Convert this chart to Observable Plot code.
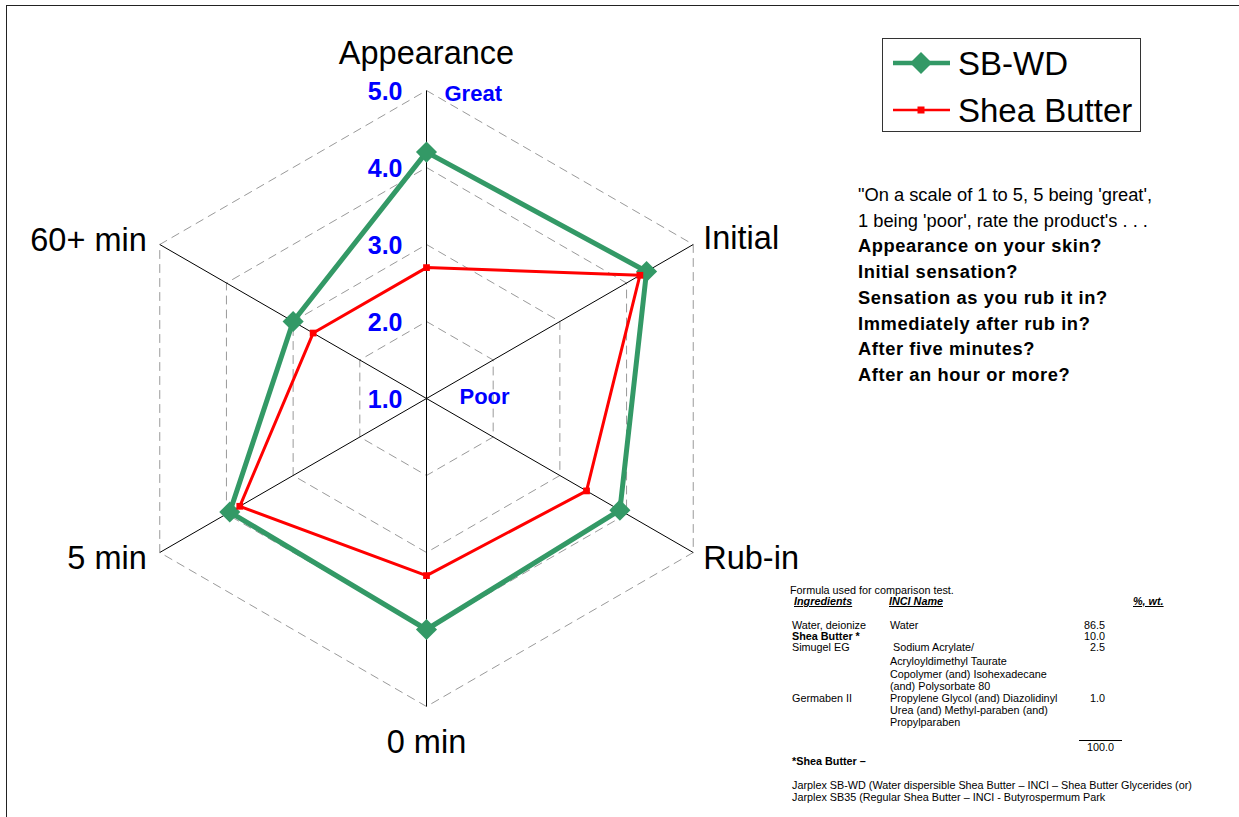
<!DOCTYPE html>
<html>
<head>
<meta charset="utf-8">
<script src="https://cdn.jsdelivr.net/npm/d3@7"></script>
<script src="https://cdn.jsdelivr.net/npm/@observablehq/plot@0.6"></script>
<style>
  html, body { margin:0; padding:0; background:#fff; overflow:hidden; }
  body { width:1239px; height:817px; position:relative; font-family:"Liberation Sans", Arial, sans-serif; }
  #frame { position:absolute; left:6px; top:5px; width:1400px; height:1000px; border:1.5px solid #222; box-sizing:border-box; }
  #chart { position:absolute; left:0; top:0; }
  #legend { position:absolute; left:882px; top:38px; }
  #questions { position:absolute; left:858px; top:182px; font-size:18.3px; line-height:25.7px; color:#000; white-space:nowrap; }
  #questions .b { font-weight:bold; letter-spacing:0.6px; }
  #formula { position:absolute; left:0; top:0; width:1239px; height:817px; font-size:10.8px; color:#000; }
  #formula span { position:absolute; white-space:nowrap; line-height:12px; transform:translateY(-6px); }
  #formula .num { text-align:right; width:40px; }
  #formula .hdr { font-weight:bold; font-style:italic; text-decoration:underline; }
</style>
</head>
<body>
<div id="frame"></div>
<div id="chart"></div>
<svg id="legend" width="260" height="95"></svg>
<div id="questions"></div>
<div id="formula"></div>
<script>
// ---- data ----
const axes = ["Appearance", "Initial", "Rub-in", "0 min", "5 min", "60+ min"];
const sbwd = [4.2, 4.3, 3.9, 4.0, 3.95, 3.0];
const shea = [2.7, 4.2, 3.4, 3.3, 3.8, 2.7];
const seriesNames = ["SB-WD", "Shea Butter"];
const tickValues = [1, 2, 3, 4, 5];
const ringValues = [2, 3, 4, 5];
const scaleMin = 1, scaleMax = 5;
const questionLines = [
  "\"On a scale of 1 to 5, 5 being 'great',",
  "1 being 'poor', rate the product's . . .",
  "Appearance on your skin?",
  "Initial sensation?",
  "Sensation as you rub it in?",
  "Immediately after rub in?",
  "After five minutes?",
  "After an hour or more?"
];

// ---- geometry helpers ----
const ang = i => i * 2 * Math.PI / axes.length;
const pt = (v, i) => ({x: (v - scaleMin) * Math.sin(ang(i)), y: (v - scaleMin) * Math.cos(ang(i))});

const ringData = ringValues.flatMap(r => axes.map((a, i) => ({ring: r, ...pt(r, i)})));
const spokeData = axes.map((a, i) => ({axis: a, ...pt(scaleMax, i)}));
const sbwdPts = sbwd.map((v, i) => ({series: seriesNames[0], axis: axes[i], ...pt(v, i)}));
const sheaPts = shea.map((v, i) => ({series: seriesNames[1], axis: axes[i], ...pt(v, i)}));

const GREEN = "#339966", RED = "#ff0000", BLUE = "#0000ff";

const labelCfg = [
  {textAnchor: "middle", dx: 0, dy: -37},
  {textAnchor: "start", dx: 10, dy: -6},
  {textAnchor: "start", dx: 10, dy: 6},
  {textAnchor: "middle", dx: 0, dy: 36},
  {textAnchor: "end", dx: -13, dy: 6},
  {textAnchor: "end", dx: -13, dy: -4}
];

const W = 1239, H = 817, CX = 426, CY = 398, UNIT = 77;

const plot = Plot.plot({
  width: W, height: H, margin: 0,
  x: {domain: [-CX / UNIT, (W - CX) / UNIT], axis: null},
  y: {domain: [(CY - H) / UNIT, CY / UNIT], axis: null},
  style: {background: "transparent", fontFamily: "Liberation Sans, Arial, sans-serif", overflow: "visible"},
  marks: [
    Plot.line(ringData, {x: "x", y: "y", z: "ring", curve: "linear-closed", stroke: "#9a9a9a", strokeWidth: 1, strokeDasharray: "8,6"}),
    Plot.link(spokeData, {x1: () => 0, y1: () => 0, x2: "x", y2: "y", stroke: "#000", strokeWidth: 1}),
    Plot.line(sbwdPts, {x: "x", y: "y", curve: "linear-closed", stroke: GREEN, strokeWidth: 5, strokeLinejoin: "miter"}),
    Plot.dot(sbwdPts, {x: "x", y: "y", symbol: "diamond2", r: 9.5, fill: GREEN, stroke: "none"}),
    Plot.line(sheaPts, {x: "x", y: "y", curve: "linear-closed", stroke: RED, strokeWidth: 3}),
    Plot.dot(sheaPts, {x: "x", y: "y", symbol: "square", r: 3.8, fill: RED, stroke: "none"}),
    ...spokeData.map((d, i) => Plot.text([d], {x: "x", y: "y", text: "axis", fontSize: 32.5, fill: "#000",
      textAnchor: labelCfg[i].textAnchor, dx: labelCfg[i].dx, dy: labelCfg[i].dy})),
    Plot.text(tickValues, {x: () => 0, y: v => v - scaleMin, text: v => v.toFixed(1), textAnchor: "end",
      dx: -24, dy: 1, fill: BLUE, fontWeight: "bold", fontSize: 25}),
    Plot.text([scaleMax], {x: () => 0, y: v => v - scaleMin, text: () => "Great", textAnchor: "start",
      dx: 18, dy: 3, fill: BLUE, fontWeight: "bold", fontSize: 22}),
    Plot.text([scaleMin], {x: () => 0, y: v => v - scaleMin, text: () => "Poor", textAnchor: "start",
      dx: 33, dy: -2, fill: BLUE, fontWeight: "bold", fontSize: 22})
  ]
});
document.getElementById("chart").appendChild(plot);

// ---- legend ----
const lg = d3.select("#legend");
lg.append("rect").attr("x", 0.5).attr("y", 0.5).attr("width", 258).attr("height", 93).attr("fill", "#fff").attr("stroke", "#333").attr("stroke-width", 1);
lg.append("line").attr("x1", 11).attr("x2", 68).attr("y1", 25).attr("y2", 25).attr("stroke", GREEN).attr("stroke-width", 4.5);
lg.append("path").attr("d", "M39,14 L50,25 L39,36 L28,25 Z").attr("fill", GREEN);
lg.append("text").attr("x", 76).attr("y", 25).attr("dy", "0.35em").attr("font-size", 33).attr("font-family", "Liberation Sans, Arial").text(seriesNames[0]);
lg.append("line").attr("x1", 11).attr("x2", 68).attr("y1", 72).attr("y2", 72).attr("stroke", RED).attr("stroke-width", 2.5);
lg.append("rect").attr("x", 35.5).attr("y", 68.5).attr("width", 7).attr("height", 7).attr("fill", RED);
lg.append("text").attr("x", 76).attr("y", 72).attr("dy", "0.35em").attr("font-size", 33).attr("font-family", "Liberation Sans, Arial").text(seriesNames[1]);

// ---- questions ----
const q = d3.select("#questions");
questionLines.forEach((t, i) => q.append("div").attr("class", i >= 2 ? "b" : null).text(t));

// ---- formula table ----
const formulaCells = [
  [790, 590, "Formula used for comparison test.", ""],
  [794, 601, "Ingredients", "hdr"],
  [889, 601, "INCI Name", "hdr"],
  [1133, 601, "%, wt.", "hdr"],
  [792, 625, "Water, deionize", ""],
  [890, 625, "Water", ""],
  [792, 636, "Shea Butter *", "b"],
  [792, 647, "Simugel EG", ""],
  [893, 647, "Sodium Acrylate/", ""],
  [890, 661, "Acryloyldimethyl Taurate", ""],
  [890, 674, "Copolymer (and) Isohexadecane", ""],
  [890, 686, "(and) Polysorbate 80", ""],
  [792, 698, "Germaben II", ""],
  [890, 698, "Propylene Glycol (and) Diazolidinyl", ""],
  [890, 710, "Urea (and) Methyl-paraben (and)", ""],
  [890, 722, "Propylparaben", ""],
  [792, 761, "*Shea Butter \u2013", "b"],
  [792, 785, "Jarplex SB-WD (Water dispersible Shea Butter \u2013 INCI \u2013 Shea Butter Glycerides (or)", ""],
  [792, 797, "Jarplex SB35 (Regular Shea Butter \u2013 INCI - Butyrospermum Park", ""]
];
const formulaNums = [[625, "86.5"], [636, "10.0"], [647, "2.5"], [698, "1.0"]];
const f = d3.select("#formula");
formulaCells.forEach(([x, y, t, c]) => f.append("span").attr("class", c === "hdr" ? "hdr" : null)
  .style("left", x + "px").style("top", y + "px").style("font-weight", c === "b" ? "bold" : null).text(t));
formulaNums.forEach(([y, t]) => f.append("span").attr("class", "num").style("left", (1105 - 40) + "px").style("top", y + "px").text(t));
f.append("div").style("position", "absolute").style("left", "1079px").style("top", "740px").style("width", "43px").style("border-top", "1px solid #000");
f.append("span").attr("class", "num").style("left", (1114 - 40) + "px").style("top", "747px").text("100.0");
</script>
</body>
</html>
